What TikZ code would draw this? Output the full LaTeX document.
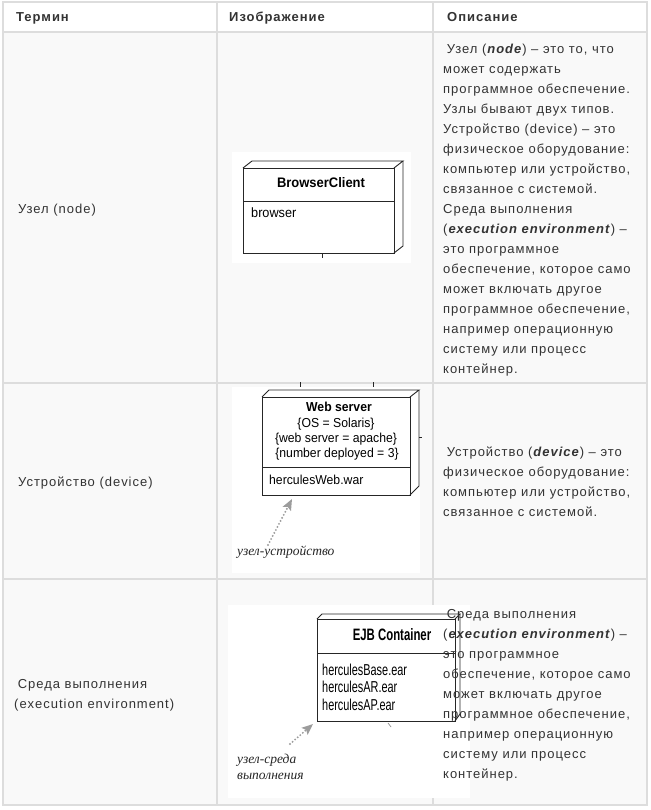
\documentclass[tikz,border=0pt]{standalone}
\usepackage{fontspec}
\setmainfont[LetterSpace=7.5]{Liberation Sans}
\newfontfamily\diagfont[FakeStretch=0.94]{Liberation Sans}
\newfontfamily\diagcfont[FakeStretch=0.69]{Liberation Sans}
\newfontfamily\handfont{Liberation Serif}
\usetikzlibrary{arrows.meta}
\definecolor{txt}{HTML}{333333}
\definecolor{gridc}{HTML}{DDDDDD}
\definecolor{cellbg}{HTML}{F9F9F9}
\definecolor{hintc}{HTML}{9C9C9C}
\definecolor{boxc}{HTML}{262626}
\newcommand\desccell[1]{\fontsize{13}{20}\selectfont\begin{tabular}[t]{@{}l@{}}#1\end{tabular}}
\newcommand\bi[1]{\textbf{\textit{#1}}}
\begin{document}
\begin{tikzpicture}[x=1pt,y=-1pt,
  gridline/.style={draw=gridc, line width=1.3pt},
  imgbg/.style={fill=white, draw=none},
  boxln/.style={draw=boxc, line width=0.9pt},
  bodytext/.style={anchor=base west, inner sep=0pt, text=txt, font=\fontsize{13}{20}\selectfont},
  headtext/.style={anchor=base west, inner sep=0pt, text=txt, font=\fontsize{13}{20}\selectfont\bfseries},
  difont/.style={inner sep=0pt, text=black, font=\diagfont\fontsize{13}{15.5}\selectfont},
  dcfont/.style={inner sep=0pt, text=black, font=\diagcfont\fontsize{15.8}{17.5}\selectfont},
  handlabel/.style={anchor=base west, inner sep=0pt, text=black!85, font=\handfont\itshape\fontsize{13.5}{15}\selectfont},
  hintarrow/.style={draw=hintc, line width=2.1pt, line cap=round, dash pattern=on 0pt off 3.4pt,
     -{Stealth[length=11pt,width=9pt,inset=2pt,fill=hintc]}},
  tick/.style={draw=boxc, line width=0.7pt}
]
\useasboundingbox (0,0) rectangle (650,810);
\fill[white] (0,0) rectangle (650,810);
% table backgrounds
\fill[white] (3,2) rectangle (647,32);
\fill[cellbg] (3,32) rectangle (647,805);
% grid
\draw[gridline] (3,2) rectangle (647,805);
\draw[gridline] (3,32) -- (647,32);
\draw[gridline] (3,383) -- (647,383);
\draw[gridline] (3,579) -- (647,579);
\draw[gridline] (217,2) -- (217,805);
\draw[gridline] (433,2) -- (433,805);

% header
\node[headtext] (h1) at (16,22) {Термин};
\node[headtext] (h2) at (229,22) {Изображение};
\node[headtext] (h3) at (447,22) {Описание};

% column 1
\node[bodytext] (t1) at (18,214) {Узел (node)};
\node[bodytext] (t2) at (18,486) {Устройство (device)};
\node[bodytext] (t3) at (14,688) {\desccell{\hspace{3.6pt}Среда выполнения\\(execution environment)}};

% ---------- row 1 image ----------
\fill[imgbg] (232,152) rectangle (411,263);
\draw[boxln] (243,168) rectangle (394,253);
\draw[boxln] (243,168) -- (252,161) -- (403,161) -- (394,168);
\draw[boxln] (403,161) -- (403,246) -- (394,253);
\draw[boxln] (243,201) -- (394,201);
\draw[tick] (322,253) -- (322,258);
\node[difont, anchor=base, font=\diagfont\fontsize{13.8}{15.5}\selectfont\bfseries] (bc) at (321,188) {BrowserClient};
\node[difont, anchor=base west, font=\diagfont\fontsize{13.5}{15.5}\selectfont] (bcb) at (251,218) {browser};

% ---------- row 2 image ----------
\fill[imgbg] (232,387) rectangle (420,573);
\draw[tick] (300,382) -- (300,387);
\draw[tick] (373,382) -- (373,387);
\draw[boxln] (262,397) rectangle (410,495);
\draw[boxln] (262,397) -- (269,390) -- (419,390) -- (410,397);
\draw[boxln] (419,390) -- (419,486) -- (410,495);
\draw[boxln] (262,467) -- (410,467);
\draw[tick] (419,437) -- (422,437);
\node[difont, anchor=base, font=\diagfont\fontsize{13}{15.5}\selectfont\bfseries] (ws) at (339,411) {Web server};
\node[difont, anchor=base] (ws1) at (336,427) {\{OS = Solaris\}};
\node[difont, anchor=base] (ws2) at (336,442) {\{web server = apache\}};
\node[difont, anchor=base] (ws3) at (337,457) {\{number deployed = 3\}};
\node[difont, anchor=base west] (wsa) at (269,484) {herculesWeb.war};
\node[handlabel] (lab2) at (237,555) {узел-устройство};
\coordinate (a2s) at (268,545);
\coordinate (a2e) at (292,499);
\draw[hintarrow] (a2s) -- (a2e);

% ---------- row 3 image ----------
\fill[imgbg] (228,605) rectangle (470,798);
\draw[boxln] (317,619) rectangle (455,721);
\draw[boxln] (317,619) -- (322,614) -- (460,614) -- (455,619);
\draw[boxln] (460,614) -- (460,714) -- (455,721);
\draw[boxln] (317,653) -- (455,653);
\draw[tick, draw=boxc!50] (388,723) -- (391,727);
\node[dcfont, anchor=base, font=\diagcfont\fontsize{16.5}{17.5}\selectfont\bfseries] (ejb) at (392,640) {EJB Container};
\node[dcfont, anchor=base west] (e1) at (322,675) {herculesBase.ear};
\node[dcfont, anchor=base west] (e2) at (322,692) {herculesAR.ear};
\node[dcfont, anchor=base west] (e3) at (322,710) {herculesAP.ear};
\node[handlabel] (lab3a) at (237,763) {узел-среда};
\node[handlabel] (lab3b) at (237,779) {выполнения};
\coordinate (a3s) at (290,744);
\coordinate (a3e) at (313,724);
\draw[hintarrow] (a3s) -- (a3e);

% ---------- description column ----------
\node[bodytext] (d1) at (443,54) {\desccell{%
\hspace{3.6pt}Узел (\bi{node}) – это то, что\\
может содержать\\
программное обеспечение.\\
Узлы бывают двух типов.\\
Устройство (device) – это\\
физическое оборудование:\\
компьютер или устройство,\\
связанное с системой.\\
Среда выполнения\\
(\bi{execution environment}) –\\
это программное\\
обеспечение, которое само\\
может включать другое\\
программное обеспечение,\\
например операционную\\
систему или процесс\\
контейнер.}};
\node[bodytext] (d2) at (443,456) {\desccell{%
\hspace{3.6pt}Устройство (\bi{device}) – это\\
физическое оборудование:\\
компьютер или устройство,\\
связанное с системой.}};
\node[bodytext] (d3) at (443,618) {\desccell{%
\hspace{3.6pt}Среда выполнения\\
(\bi{execution environment}) –\\
это программное\\
обеспечение, которое само\\
может включать другое\\
программное обеспечение,\\
например операционную\\
систему или процесс\\
контейнер.}};
\end{tikzpicture}
\end{document}
